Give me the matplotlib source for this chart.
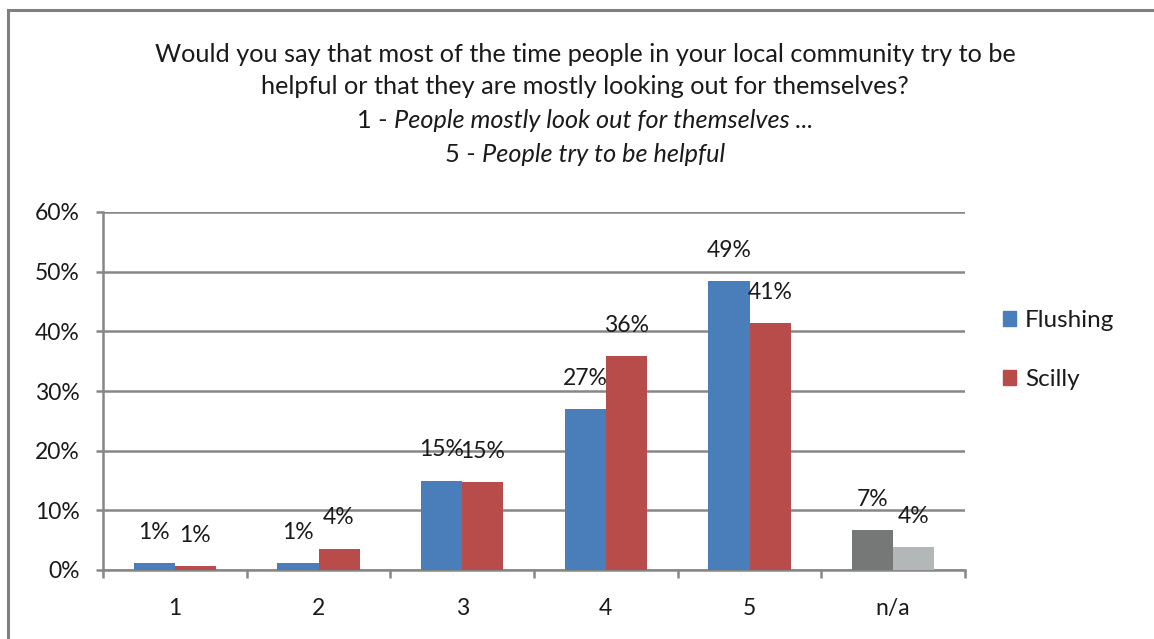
import numpy as np
import matplotlib.pyplot as plt
from matplotlib.patches import Patch
from matplotlib.lines import Line2D

plt.rcParams["font.family"] = ["Lato", "DejaVu Sans"]

categories = ["1", "2", "3", "4", "5", "n/a"]
flushing = [1.2, 1.2, 15.0, 26.9, 48.5, 6.7]
scilly = [0.6, 3.6, 14.7, 35.9, 41.4, 3.8]
flushing_labels = ["1%", "1%", "15%", "27%", "49%", "7%"]
scilly_labels = ["1%", "4%", "15%", "36%", "41%", "4%"]
yticks = [0, 10, 20, 30, 40, 50, 60]

BLUE = "#4a7ebb"
RED = "#b84c4a"
DARK_GREY = "#767878"
LIGHT_GREY = "#b4b7b8"
GRID = "#878787"
TEXT = "#1a1a1a"
FS = 16.5

title_lines = [
    ("", "Would you say that most of the time people in your local community try to be"),
    ("", "helpful or that they are mostly looking out for themselves?"),
    ("1 - ", "People mostly look out for themselves ..."),
    ("5 - ", "People try to be helpful"),
]
title_y_px = [55, 87, 120, 155]

W, H = 1154, 639
fig = plt.figure(figsize=(W / 100, H / 100), dpi=100)
ax = fig.add_axes([103 / W, 1 - 570 / H, (965 - 103) / W, (570 - 212) / H])

x = np.arange(len(categories))
width = 1 / 3.5
f_colors = [BLUE] * 5 + [DARK_GREY]
s_colors = [RED] * 5 + [LIGHT_GREY]
bars_f = ax.bar(x - width / 2, flushing, width, color=f_colors, zorder=3)
bars_s = ax.bar(x + width / 2, scilly, width, color=s_colors, zorder=3)

for bars, labels in ((bars_f, flushing_labels), (bars_s, scilly_labels)):
    for b, lab in zip(bars, labels):
        ax.annotate(lab, (b.get_x() + b.get_width() / 2, b.get_height()),
                    xytext=(0, 22), textcoords="offset points",
                    ha="center", va="center", fontsize=FS, color=TEXT)

ax.set_xlim(-0.5, len(categories) - 0.5)
ax.set_ylim(0, 60)
ax.set_yticks(yticks)
ax.set_yticklabels([f"{v}%" for v in yticks])
ax.set_xticks(x)
ax.set_xticklabels(categories)
ax.set_xticks(np.arange(len(categories) + 1) - 0.5, minor=True)
ax.tick_params(axis="x", which="major", length=0, pad=20)
ax.tick_params(axis="x", which="minor", length=6, width=1.8, color=GRID)
ax.tick_params(axis="y", length=5, width=1.8, color=GRID, pad=12)
ax.tick_params(labelsize=FS, labelcolor=TEXT)

ax.grid(axis="y", color=GRID, linewidth=1.8, zorder=0)
for side in ("top", "right"):
    ax.spines[side].set_visible(False)
for side in ("left", "bottom"):
    ax.spines[side].set_color(GRID)
    ax.spines[side].set_linewidth(1.8)

handles = [Patch(color=BLUE, label="Flushing"), Patch(color=RED, label="Scilly")]
fig.legend(handles=handles, loc="center left", bbox_to_anchor=(1003 / W, 1 - 350 / H),
           frameon=False, fontsize=17.5, handlelength=0.55, handleheight=0.55,
           handletextpad=0.35, labelspacing=1.55, borderpad=0, borderaxespad=0,
           labelcolor=TEXT)

# title: centred lines, with the scale descriptions in italics
renderer = fig.canvas.get_renderer()
cx = 585
for (plain, rest), ypx in zip(title_lines, title_y_px):
    y = 1 - ypx / H
    style = "italic" if plain else "normal"
    t1 = fig.text(0, y, plain, fontsize=18.2, color=TEXT, va="center", ha="left")
    t2 = fig.text(0, y, rest, fontsize=18.2, color=TEXT, va="center", ha="left",
                  style=style)
    w1 = t1.get_window_extent(renderer).width if plain else 0
    w2 = t2.get_window_extent(renderer).width
    left = cx - (w1 + w2) / 2
    t1.set_x(left / W)
    t2.set_x((left + w1) / W)

# chart frame along the top and left edges
fig.add_artist(Line2D([8 / W, 1], [1 - 10 / H, 1 - 10 / H], color="#808080", linewidth=2.2))
fig.add_artist(Line2D([8 / W, 8 / W], [0, 1 - 10 / H], color="#808080", linewidth=2.2))

fig.savefig("out.png", dpi=100)
